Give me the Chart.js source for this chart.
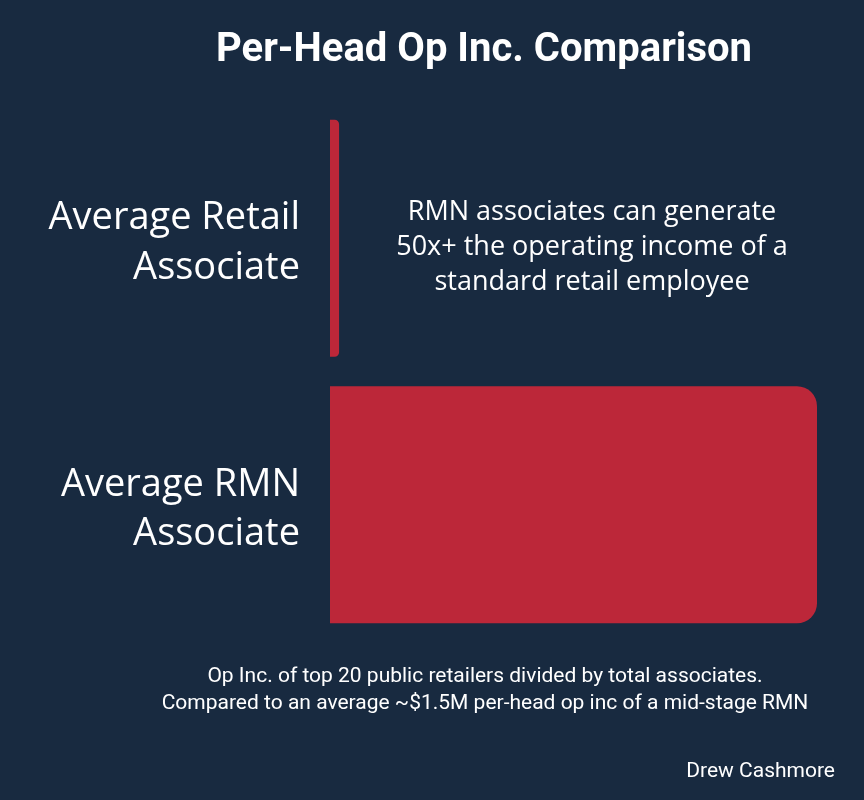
<!DOCTYPE html>
<html>
<head>
<meta charset="utf-8">
<script src="https://cdn.jsdelivr.net/npm/chart.js@4.4.1/dist/chart.umd.min.js"></script>
<style>
  html, body { margin: 0; padding: 0; background: #182a40; }
  #wrap { width: 864px; height: 800px; }
</style>
</head>
<body>
<div id="wrap"><canvas id="opChart" width="864" height="800"></canvas></div>
<script>
// chart data
const categories = [['Average Retail', 'Associate'], ['Average RMN', 'Associate']];
const opIncPerHead = [28000, 1500000];   // USD per associate
const axisMax = 1500000;

const titleText = 'Per-Head Op Inc. Comparison';
const noteLines = ['RMN associates can generate', '50x+ the operating income of a', 'standard retail employee'];
const footLines = ['Op Inc. of top 20 public retailers divided by total associates.',
                   'Compared to an average ~$1.5M per-head op inc of a mid-stage RMN'];
const author = 'Drew Cashmore';

const bg = '#182a40';
const barRed = '#bc2739';

// draws background + the free text around the chart
const textPlugin = {
    id: 'textPlugin',
    beforeDraw(chart) {
        const c = chart.ctx;
        c.save();
        c.fillStyle = bg;
        c.fillRect(0, 0, chart.width, chart.height);
        c.restore();
    },
    afterDraw(chart) {
        const c = chart.ctx;
        c.save();
        c.fillStyle = '#ffffff';
        c.textBaseline = 'middle';
        c.textAlign = 'center';
        c.font = 'bold 40px Roboto';
        c.fillText(titleText, 484, 51);

        c.font = '27px "Open Sans"';
        noteLines.forEach(function (l, i) {
            c.fillText(l, 592, 212 + i * 35);
        });

        c.font = '21px Roboto';
        footLines.forEach(function (l, i) {
            c.fillText(l, 485, 677 + i * 27);
        });

        c.textAlign = 'right';
        c.font = '21px Roboto';
        c.fillText(author, 835, 772);
        c.restore();
    }
};

const ctx = document.getElementById('opChart').getContext('2d');
const myChart = new Chart(ctx, {
    type: 'bar',
    data: {
        labels: categories,
        datasets: [{
            label: 'Per-head op inc',
            data: opIncPerHead,
            backgroundColor: barRed,
            borderWidth: 0,
            borderSkipped: 'start',
            borderRadius: 20,
            categoryPercentage: 1,
            barPercentage: 0.89
        }]
    },
    options: {
        responsive: false,
        animation: false,
        indexAxis: 'y',
        layout: {
            padding: { top: 105, bottom: 162, right: 47, left: 0 }
        },
        plugins: {
            legend: { display: false },
            tooltip: { enabled: false },
            title: { display: false }
        },
        scales: {
            x: {
                display: false,
                min: 0,
                max: axisMax
            },
            y: {
                grid: { display: false, drawTicks: false },
                border: { display: false },
                afterFit: function (scale) { scale.width = 330; },
                ticks: {
                    color: '#ffffff',
                    padding: 30,
                    labelOffset: 5,
                    font: { family: '"Open Sans"', size: 38, lineHeight: 1.3 }
                }
            }
        }
    },
    plugins: [textPlugin]
});
</script>
</body>
</html>
